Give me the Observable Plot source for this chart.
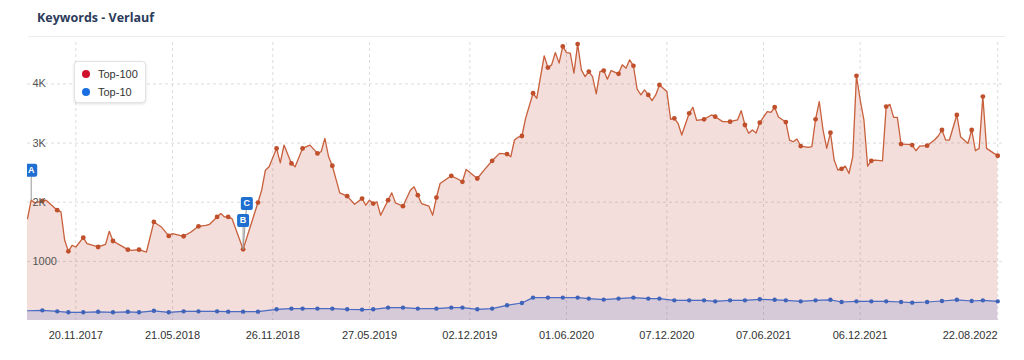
<!DOCTYPE html>
<html>
<head>
<meta charset="utf-8">
<script src="https://cdn.jsdelivr.net/npm/d3@7"></script>
<script src="https://cdn.jsdelivr.net/npm/@observablehq/plot@0.6"></script>
<style>
  html, body { margin: 0; padding: 0; background: #fff; }
  #wrap { position: relative; width: 1024px; height: 360px; overflow: hidden; font-family: "Liberation Sans", Arial, sans-serif; }
  #title { position: absolute; left: 37px; top: 9px; font: 700 12.5px "Open Sans", Roboto, sans-serif; color: #2b3b5a; }
  #sep { position: absolute; left: 28px; top: 36px; width: 977px; height: 1px; background: #ececec; }
  #legend { position: absolute; left: 74px; top: 61px; width: 70px; height: 40px; border: 1px solid #e2e2e2; border-radius: 4px; background: #fff; box-shadow: 0 1px 3px rgba(0,0,0,0.12); font-size: 11px; color: #333; }
  .item { position: absolute; left: 7px; height: 14px; line-height: 14px; white-space: nowrap; }
  .dot { display: inline-block; width: 8px; height: 8px; border-radius: 50%; vertical-align: middle; margin-right: 8px; position: relative; top: -1px; }
  #chart { position: absolute; left: 0; top: 0; }
</style>
</head>
<body>
<div id="wrap">
  <div id="chart"></div>
  <div id="title">Keywords - Verlauf</div>
  <div id="sep"></div>
  <div id="legend"></div>
</div>
<script>
// ---- data (weekly values, week index counted from 21.08.2017) ----
const startDate = "2017-08-21";
const seriesNames = ["Top-100", "Top-10"];
const legendColors = ["#d0112b", "#1a6fe0"];

const top100Weeks = [0,1,2,4,5,8,9,10,11,12,13,15,16,19,21,22,23,25,27,28,30,32,34,36,38,39,42,44,46,48,49,51,52,53,54,55,58,
  62,63,64,65,67,68,69,71,72,74,76,78,79,80,81,82,84,86,88,90,91,92,93,94,95,97,98,99,101,103,104,105,106,108,109,110,111,114,116,117,118,121,123,125,127,129,130,131,132,133,134,136,137,139,
  140,141,142,143,144,145,146,147,148,149,150,151,152,153,154,155,156,157,159,160,161,162,163,164,165,166,167,168,169,170,172,173,174,175,176,178,179,180,182,184,185,187,189,191,192,193,194,195,196,197,199,
  200,201,202,204,205,206,207,208,210,211,212,213,214,215,216,217,218,219,220,221,222,223,224,225,226,227,228,230,231,232,233,234,235,237,238,239,240,242,244,245,246,247,248,250,251,253,254,255,256,257,258,260,261];
const top100Values = [1724,2034,1989,2022,2034,1865,1836,1356,1170,1271,1243,1401,1300,1243,1288,1508,1344,1271,1198,1187,1198,1158,1666,1582,1430,1469,1424,1497,1593,1610,1627,1751,1808,1751,1751,1723,1203,
  1994,2203,2542,2598,2910,2666,2966,2655,2598,2910,2966,2825,2853,3079,2768,2616,2158,2102,1966,2062,1949,2034,1977,2006,1780,2034,2158,1989,1932,2203,2260,2119,1977,1932,1780,2079,2316,2446,2384,2345,2554,2401,2554,2700,2825,2813,2768,3050,3100,3119,3418,3842,3757,4475,
  4276,4322,4530,4351,4633,4530,4520,4181,4673,4237,4124,4209,4124,3831,4209,4226,4080,4226,4170,4322,4266,4407,4305,3910,3814,3898,3814,3717,3814,3983,3870,3402,3418,3334,3136,3503,3605,3384,3402,3475,3446,3362,3362,3390,3548,3305,3164,3221,3170,3345,3531,
  3520,3605,3440,3355,3051,3022,3068,2949,2927,2938,3402,3700,3221,2910,3175,2712,2542,2565,2610,2486,2768,4136,3729,3390,2610,2700,2712,2700,3616,3655,3435,3435,2983,2977,2966,2870,2949,2955,3051,3119,3221,3051,3051,3475,3107,2994,3221,2870,2910,3785,2910,2825,2785];

// weeks that carry a visible marker (both series)
const dotWeeks = [4,8,11,15,19,23,27,30,34,38,42,46,51,54,58,62,67,71,74,78,82,86,90,93,97,101,105,110,114,117,121,125,129,133,136,140,144,148,151,155,
  159,163,167,170,174,178,182,185,189,193,197,201,204,208,212,216,219,223,227,231,235,238,242,246,250,254,257,261];

const top10Weeks = [0,4,8,11,15,19,23,27,30,34,38,42,46,51,54,58,62,67,71,74,78,82,86,90,93,97,101,105,110,114,117,121,125,129,133,136,140,144,148,151,155,
  159,163,167,170,174,178,182,185,189,193,197,201,204,208,212,216,219,223,227,231,235,238,242,246,250,254,257,261];
const top10Values = [165,172,155,139,139,147,139,147,139,164,139,155,155,155,150,150,150,189,201,201,201,201,189,184,189,218,218,201,201,218,218,189,201,257,296,387,387,387,387,370,353,
  370,387,370,370,341,341,341,324,341,341,358,350,341,324,341,350,313,324,324,324,313,302,313,330,350,330,341,324];

// event flags
const flagLabels = ["A", "B", "C"];
const flagWeeks = [1, 58, 59];
const flagValues = [2540, 1690, 1980];
const flagTargetWeeks = [1, 58, 58];

// axes
const xTickLabels = ["20.11.2017","21.05.2018","26.11.2018","27.05.2019","02.12.2019","01.06.2020","07.12.2020","07.06.2021","06.12.2021","22.08.2022"];
const yTicks = [1000, 2000, 3000, 4000];
const yTickLabels = ["1000", "2K", "3K", "4K"];
const xDomainLabels = ["21.08.2017", "31.08.2022"];
const yMax = 4700;

// ---- build ----
const parse = d3.utcParse("%d.%m.%Y");
const start = d3.utcParse("%Y-%m-%d")(startDate);
const wk = w => d3.utcDay.offset(start, 7 * w);
const top100 = top100Weeks.map((w, i) => ({date: wk(w), week: w, value: top100Values[i]}));
const top100ByWeek = new Map(top100.map(d => [d.week, d.value]));
const dotSet = new Set(dotWeeks);
const top100Dots = top100.filter(d => dotSet.has(d.week));
const top10 = top10Weeks.map((w, i) => ({date: wk(w), week: w, value: top10Values[i]}));
const top10Dots = top10.filter(d => dotSet.has(d.week));
const flags = flagLabels.map((l, i) => ({
  label: l, date: wk(flagWeeks[i]), value: flagValues[i],
  tdate: wk(flagTargetWeeks[i]), tvalue: top100ByWeek.get(flagTargetWeeks[i])
}));
const xTicks = xTickLabels.map(parse);
const fmt = d3.utcFormat("%d.%m.%Y");

const flagSymbol = {
  draw(ctx) {
    const w = 6, h = 6.5, r = 2;
    ctx.moveTo(-w + r, -h); ctx.lineTo(w - r, -h); ctx.arcTo(w, -h, w, -h + r, r);
    ctx.lineTo(w, h - r); ctx.arcTo(w, h, w - r, h, r);
    ctx.lineTo(-w + r, h); ctx.arcTo(-w, h, -w, h - r, r);
    ctx.lineTo(-w, -h + r); ctx.arcTo(-w, -h, -w + r, -h, r);
    ctx.closePath();
  }
};

const chart = Plot.plot({
  width: 1024, height: 360,
  marginLeft: 27, marginRight: 22, marginTop: 42, marginBottom: 40,
  x: {type: "utc", domain: xDomainLabels.map(parse)},
  y: {domain: [0, yMax]},
  style: {fontFamily: "'Liberation Sans', Arial, sans-serif", fontSize: "11px", background: "transparent"},
  marks: [
    Plot.gridX(xTicks, {stroke: "#dcdcdc", strokeOpacity: 1, strokeDasharray: "3,3"}),
    Plot.gridY(yTicks, {stroke: "#dcdcdc", strokeOpacity: 1, strokeDasharray: "3,3"}),
    Plot.areaY(top100, {x: "date", y: "value", fill: "#c0392b", fillOpacity: 0.17}),
    Plot.areaY(top10, {x: "date", y: "value", fill: "#3355cc", fillOpacity: 0.15}),
    Plot.lineY(top100, {x: "date", y: "value", stroke: "#c8603c", strokeWidth: 1.3}),
    Plot.dot(top100Dots, {x: "date", y: "value", r: 2.4, fill: "#c0502c"}),
    Plot.lineY(top10, {x: "date", y: "value", stroke: "#4a6cc4", strokeWidth: 1.2}),
    Plot.dot(top10Dots, {x: "date", y: "value", r: 2.2, fill: "#3f63b8"}),
    Plot.link(flags, {x1: "date", y1: "value", x2: "tdate", y2: "tvalue", stroke: "#9a9a9a", strokeWidth: 1}),
    Plot.dot(flags, {x: "date", y: "value", symbol: flagSymbol, r: 6, fill: "#1f6fd1", clip: true}),
    Plot.text(flags, {x: "date", y: "value", text: "label", fill: "white", fontWeight: "bold", fontSize: 9, clip: true}),
    Plot.axisX(xTicks.slice(0, -1), {tickSize: 0, tickPadding: 11, tickFormat: fmt, fill: "#333", fontSize: 11, label: null}),
    Plot.axisX(xTicks.slice(-1), {tickSize: 0, tickPadding: 11, tickFormat: fmt, fill: "#333", fontSize: 11, textAnchor: "end", label: null}),
    Plot.axisY(yTicks, {tickSize: 0, tickPadding: -5, textAnchor: "start", tickFormat: (d, i) => yTickLabels[i], fill: "#555", fontSize: 11, label: null})
  ]
});
document.getElementById("chart").appendChild(chart);

const legend = document.getElementById("legend");
seriesNames.forEach((name, i) => {
  const item = document.createElement("div");
  item.className = "item";
  item.style.top = (5 + i * 18) + "px";
  item.innerHTML = `<span class="dot" style="background:${legendColors[i]}"></span>${name}`;
  legend.appendChild(item);
});
</script>
</body>
</html>
